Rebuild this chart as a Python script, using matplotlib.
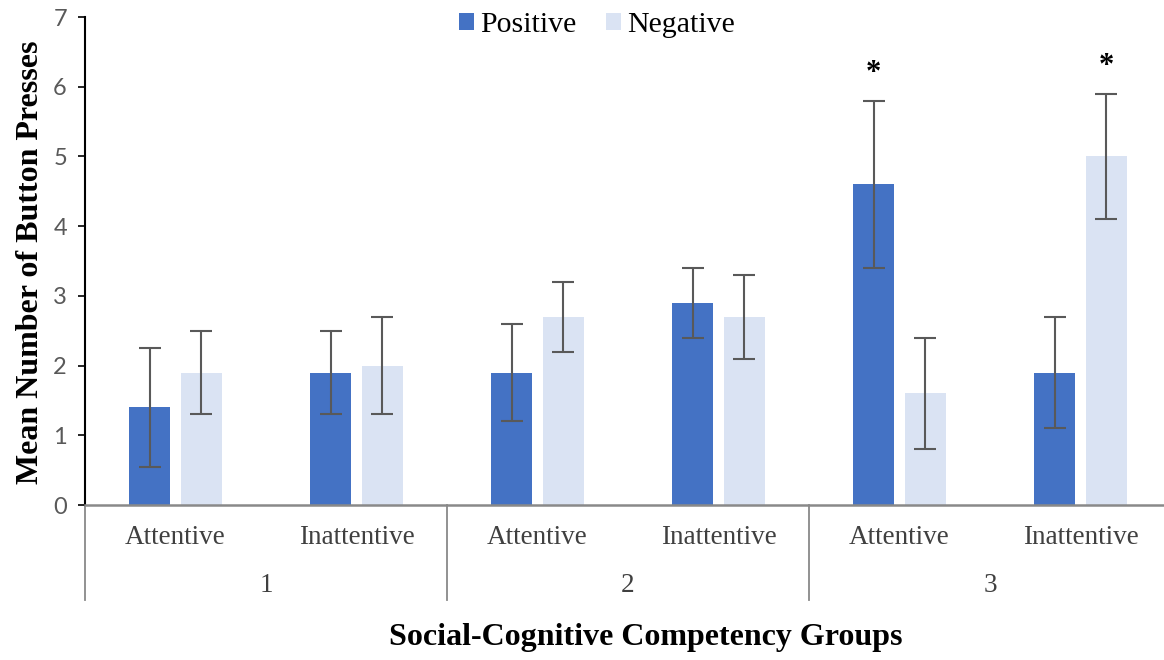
import matplotlib
matplotlib.use("Agg")
import matplotlib.pyplot as plt
from matplotlib.patches import Patch
from matplotlib.transforms import blended_transform_factory

# Data
subgroups = ["Attentive", "Inattentive", "Attentive", "Inattentive", "Attentive", "Inattentive"]
groups = ["1", "2", "3"]
positive = [1.4, 1.9, 1.9, 2.9, 4.6, 1.9]
positive_err = [0.85, 0.6, 0.7, 0.5, 1.2, 0.8]
negative = [1.9, 2.0, 2.7, 2.7, 1.6, 5.0]
negative_err = [0.6, 0.7, 0.5, 0.6, 0.8, 0.9]
# significance markers: (subgroup index, series) pairs
significant = [(4, "Positive"), (5, "Negative")]

W, H = 1164, 660
fig = plt.figure(figsize=(W / 100, H / 100), dpi=100)
fig.patch.set_facecolor("white")

left_px, right_px, top_px, bottom_px = 85, 1171, 17, 505
ax = fig.add_axes([left_px / W, (H - bottom_px) / H,
                   (right_px - left_px) / W, (bottom_px - top_px) / H])

serif = ["Liberation Serif", "DejaVu Serif"]
c_pos = "#4472C4"
c_neg = "#DAE3F3"
c_err = "#595959"
c_grid = "#898989"

x = list(range(len(subgroups)))
bw = 0.226
off = 0.143
xp = [i - off for i in x]
xn = [i + off for i in x]

err_kw = dict(ecolor=c_err, elinewidth=1.5, capsize=8, capthick=1.5)
ax.bar(xp, positive, width=bw, color=c_pos, yerr=positive_err, error_kw=err_kw, zorder=2)
ax.bar(xn, negative, width=bw, color=c_neg, yerr=negative_err, error_kw=err_kw, zorder=2)

for idx, series in significant:
    if series == "Positive":
        xs, top = xp[idx], positive[idx] + positive_err[idx]
    else:
        xs, top = xn[idx], negative[idx] + negative_err[idx]
    ax.text(xs, top + 0.18, "*", ha="center", va="bottom", fontsize=22,
            fontweight="bold", family=serif, color="black")

ax.set_xlim(-0.5, len(subgroups) - 0.5)
ax.set_ylim(0, 7)
ax.set_yticks(range(0, 8))
ax.tick_params(axis="y", labelsize=17, labelcolor="#595959", length=5,
               width=1.2, color="black", pad=8)
for lab in ax.get_yticklabels():
    lab.set_family(["Lato", "DejaVu Sans"])
ax.set_xticks([])

for s in ("top", "right"):
    ax.spines[s].set_visible(False)
ax.spines["left"].set_color("black")
ax.spines["left"].set_linewidth(1.5)
ax.spines["bottom"].set_color(c_grid)
ax.spines["bottom"].set_linewidth(1.8)

# Two-level category axis below the plot
ax_h = bottom_px - top_px
trans = blended_transform_factory(ax.transData, ax.transAxes)
for i, name in enumerate(subgroups):
    ax.text(i, -33 / ax_h, name, transform=trans, ha="center", va="center",
            fontsize=19.5, family=serif, color="#404040")
for g, name in enumerate(groups):
    ax.text(2 * g + 0.5, -80 / ax_h, name, transform=trans, ha="center",
            va="center", fontsize=19.5, family=serif, color="#404040")
for b in [-0.5, 1.5, 3.5, 5.5]:
    ax.plot([b, b], [0, -95 / ax_h], transform=trans, color=c_grid,
            lw=1.3, clip_on=False, zorder=1)

# Legend
handles = [Patch(facecolor=c_pos, edgecolor="none", label="Positive"),
           Patch(facecolor=c_neg, edgecolor="none", label="Negative")]
fig.legend(handles=handles, loc="center", bbox_to_anchor=(597 / W, (H - 25) / H),
           ncol=2, frameon=False, prop={"family": serif, "size": 21.5},
           handlelength=0.5, handleheight=0.5, handletextpad=0.2,
           columnspacing=1.0, borderpad=0)

fig.text(31 / W, (H - 262) / H, "Mean Number of Button Presses", rotation=90,
         ha="center", va="center", fontsize=23, fontweight="bold", family=serif)
fig.text(646 / W, (H - 638) / H, "Social-Cognitive Competency Groups",
         ha="center", va="center", fontsize=23, fontweight="bold", family=serif)

fig.savefig("out.png", dpi=100)
